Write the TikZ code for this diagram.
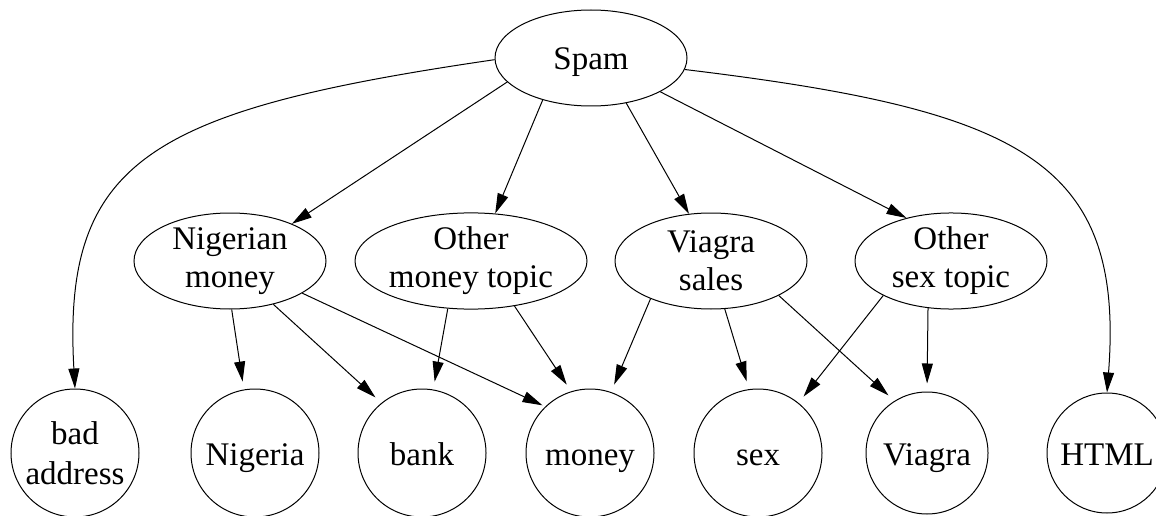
\documentclass[tikz,border=0pt]{standalone}
\usepackage{fontspec}
\setmainfont{Liberation Serif}
\usetikzlibrary{shapes, arrows.meta, positioning}

\begin{document}
\begin{tikzpicture}[x=1pt, y=-1pt,
		topic/.style={draw, ellipse, line width=1pt, minimum width=192pt, minimum height=96pt, inner sep=0pt, align=center, font=\fontsize{33}{38}\selectfont},
		word/.style={draw, circle, line width=1pt, minimum size=128pt, inner sep=0pt, align=center, text height=24pt, text depth=0pt, font=\fontsize{33}{38}\selectfont},
		arrow/.style={-{Triangle[length=20pt, width=11pt]}, line width=1pt},
		to_word/.style={arrow, shorten >=8pt}
		]
		\useasboundingbox (0,0) rectangle (1156,516);
		
		% Root
		\node[topic, text height=24pt, text depth=0pt] (spam) at (591, 58) {Spam};
		
		% Topics
		\node[topic] (nig_money) at (230, 261) {Nigerian\\money};
		\node[topic] (other_money) at (471, 261) {Other\\money topic};
		\node[topic] (viagra_sales) at (711, 261) {Viagra\\sales};
		\node[topic] (other_sex) at (951, 261) {Other\\sex topic};
		
		% Words
		\node[word, text height=, text depth=, font=\fontsize{33}{40}\selectfont] (bad_addr) at (75, 453) {bad\\address};
		\node[word] (nigeria) at (255, 453) {Nigeria};
		\node[word] (bank) at (422, 453) {bank};
		\node[word] (money) at (590, 453) {money};
		\node[word] (sex) at (758, 453) {sex};
		\node[word, minimum size=122pt] (viagra) at (927, 453) {Viagra};
		\node[word, minimum size=120pt] (html) at (1107, 453) {HTML};
		
		% Edges from root
		\draw[arrow] (spam.181) .. controls (150, 110) and (62, 160) .. (bad_addr.north);
		\draw[arrow] (spam.196) -- (nig_money.31);
		\draw[arrow] (spam.221) -- (other_money.63);
		\draw[arrow] (spam.308) -- (viagra_sales.115);
		\draw[arrow] (spam.334) -- (other_sex.136);
		\draw[arrow] (spam.353) .. controls (1020, 110) and (1125, 160) .. (html.north);
		
		% Edges from topics
		\draw[to_word] (nig_money.272) -- (nigeria.100);
		\draw[to_word] (nig_money.315) -- (bank.129);
		\draw[arrow, shorten >=3pt] (nig_money.336) -- (money.134);
		\draw[to_word] (other_money.244) -- (bank.80);
		\draw[to_word] (other_money.314) -- (money.107);
		\draw[to_word] (viagra_sales.212) -- (money.71);
		\draw[to_word] (viagra_sales.286) -- (sex.98);
		\draw[to_word] (viagra_sales.333) -- (viagra.122);
		\draw[to_word] (other_sex.207) -- (sex.51);
		\draw[to_word] (other_sex.244) -- (viagra.90);
	\end{tikzpicture}
\end{document}
